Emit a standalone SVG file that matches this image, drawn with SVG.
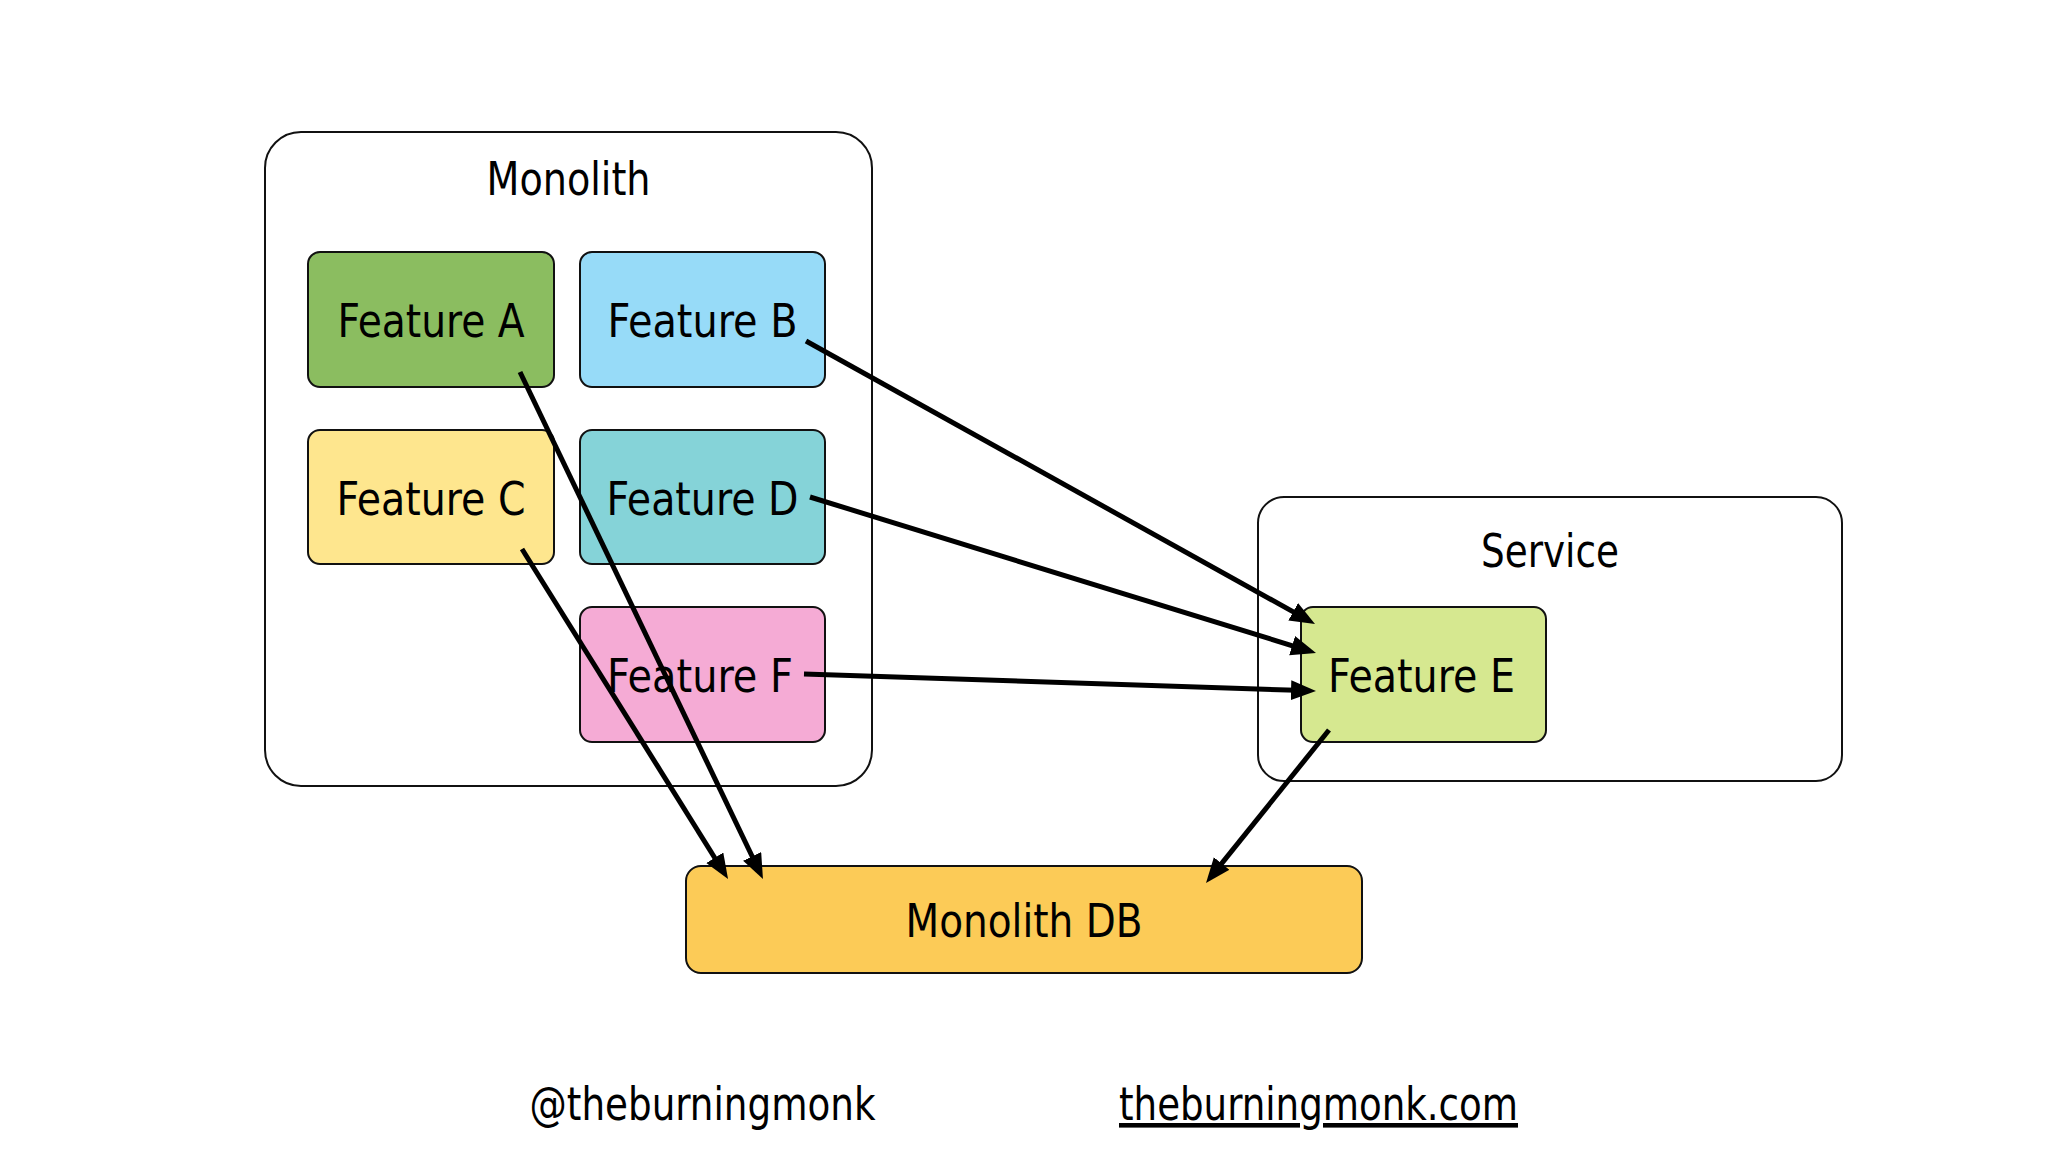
<svg xmlns="http://www.w3.org/2000/svg" width="2048" height="1152" viewBox="0 0 2048 1152">
  <style>
    text { font-family: "DejaVu Sans Condensed", "DejaVu Sans", "Liberation Sans", sans-serif; font-stretch: condensed; fill: #000; text-anchor: middle; }
    .lbl { font-size: 46px; }
    .container { fill: #ffffff; stroke: #111; stroke-width: 2; }
    .feat { stroke: #111; stroke-width: 2; }
    .conn { stroke: #000; stroke-width: 5; fill: none; marker-end: url(#arrow); }
  </style>
  <defs>
    <marker id="arrow" markerUnits="userSpaceOnUse" markerWidth="28" markerHeight="22" refX="14" refY="10" orient="auto">
      <path d="M0,0 L25,10 L0,20 z" fill="#000"/>
    </marker>
  </defs>
  <rect width="2048" height="1152" fill="#ffffff"/>

  <g id="monolith">
    <rect class="container" x="265" y="132" width="607" height="654" rx="36"/>
    <text class="lbl" x="568.5" y="195" textLength="164" lengthAdjust="spacingAndGlyphs">Monolith</text>
  </g>
  <g id="service">
    <rect class="container" x="1258" y="497" width="584" height="284" rx="26"/>
    <text class="lbl" x="1550" y="567" textLength="138" lengthAdjust="spacingAndGlyphs">Service</text>
  </g>

  <g id="feature-a">
    <rect class="feat" x="308" y="252" width="246" height="135" rx="12" fill="#8bbd60"/>
    <text class="lbl" x="431" y="337" textLength="187" lengthAdjust="spacingAndGlyphs">Feature A</text>
  </g>
  <g id="feature-b">
    <rect class="feat" x="580" y="252" width="245" height="135" rx="12" fill="#97dbf8"/>
    <text class="lbl" x="702.5" y="337" textLength="190" lengthAdjust="spacingAndGlyphs">Feature B</text>
  </g>
  <g id="feature-c">
    <rect class="feat" x="308" y="430" width="246" height="134" rx="12" fill="#fee68e"/>
    <text class="lbl" x="431" y="514.5" textLength="189" lengthAdjust="spacingAndGlyphs">Feature C</text>
  </g>
  <g id="feature-d">
    <rect class="feat" x="580" y="430" width="245" height="134" rx="12" fill="#85d3d8"/>
    <text class="lbl" x="702.5" y="514.5" textLength="192" lengthAdjust="spacingAndGlyphs">Feature D</text>
  </g>
  <g id="feature-f">
    <rect class="feat" x="580" y="607" width="245" height="135" rx="12" fill="#f5abd5"/>
    <text class="lbl" x="700" y="692" textLength="186" lengthAdjust="spacingAndGlyphs">Feature F</text>
  </g>
  <g id="feature-e">
    <rect class="feat" x="1301" y="607" width="245" height="135" rx="12" fill="#d6e890"/>
    <text class="lbl" x="1421.5" y="692" textLength="187" lengthAdjust="spacingAndGlyphs">Feature E</text>
  </g>
  <g id="monolith-db">
    <rect class="feat" x="686" y="866" width="676" height="107" rx="15" fill="#fccb57"/>
    <text class="lbl" x="1024" y="937" textLength="237" lengthAdjust="spacingAndGlyphs">Monolith DB</text>
  </g>

  <g id="connectors">
    <line class="conn" x1="520" y1="372" x2="758.2" y2="869"/>
    <line class="conn" x1="522" y1="549" x2="722.2" y2="869.7"/>
    <line class="conn" x1="806" y1="341" x2="1305.4" y2="618.6"/>
    <line class="conn" x1="810" y1="497" x2="1305.5" y2="649.8"/>
    <line class="conn" x1="804" y1="674" x2="1305" y2="690.6"/>
    <line class="conn" x1="1329" y1="730" x2="1212.9" y2="874.4"/>
  </g>

  <g id="footer">
    <text class="lbl" x="702.5" y="1120" textLength="346" lengthAdjust="spacingAndGlyphs">@theburningmonk</text>
    <text class="lbl" x="1318.5" y="1120" textLength="399" lengthAdjust="spacingAndGlyphs" text-decoration="underline">theburningmonk.com</text>
  </g>
</svg>
